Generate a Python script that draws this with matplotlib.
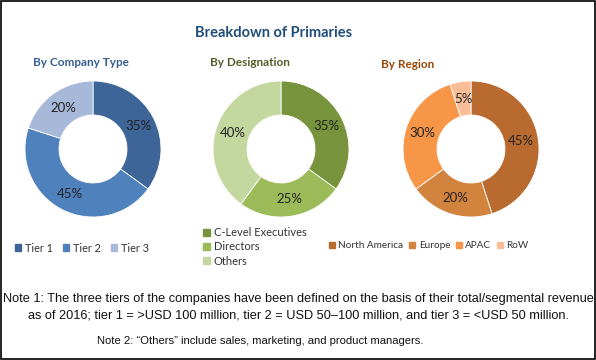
import matplotlib
matplotlib.use("Agg")
import matplotlib.pyplot as plt
from matplotlib.patches import Patch, Rectangle

# chart data
title = "Breakdown of Primaries"
company_labels = ["Tier 1", "Tier 2", "Tier 3"]
company_values = [35, 45, 20]
design_labels = ["C-Level Executives", "Directors", "Others"]
design_values = [35, 25, 40]
region_labels = ["North America", "Europe", "APAC", "RoW"]
region_values = [45, 20, 30, 5]

note1 = ("Note 1: The three tiers of the companies have been defined on the basis of their total/segmental revenue\n"
         "as of 2016; tier 1 = >USD 100 million, tier 2 = USD 50\u2013100 million, and tier 3 = <USD 50 million.")
note2 = "Note 2: \u201cOthers\u201d include sales, marketing, and product managers."

company_colors = ["#3E6597", "#4F81BD", "#A7B9D8"]
design_colors = ["#77933C", "#9BBB59", "#C4D79F"]
region_colors = ["#B86A2F", "#D2843E", "#F79646", "#F9BD97"]

W, H = 596, 360
fig = plt.figure(figsize=(W / 100, H / 100), dpi=100)
fig.patch.set_facecolor("white")


def fx(x):
    return x / W


def fy(y):
    return 1 - y / H


def donut(cx, cy, r, values, colors):
    ax = fig.add_axes([fx(cx - r), fy(cy + r), 2 * r / W, 2 * r / H])
    ax.pie(values, colors=colors, startangle=90, counterclock=False,
           radius=1, wedgeprops=dict(width=0.5, edgecolor="white", linewidth=0.6),
           autopct="%d%%", pctdistance=0.75,
           textprops=dict(family="Lato", fontsize=9.5, color="#222222"))
    ax.set_xlim(-1, 1)
    ax.set_ylim(-1, 1)
    ax.set_aspect("equal")
    ax.axis("off")
    return ax


donut(93, 149, 68, company_values, company_colors)
donut(281, 149, 68, design_values, design_colors)
donut(471, 149, 68, region_values, region_colors)

fig.text(fx(274), fy(33), title, ha="center", va="center", family="Lato",
         fontweight="bold", fontsize=10.5, color="#1F4E79")
fig.text(fx(81), fy(63), "By Company Type", ha="center", va="center", family="Lato",
         fontweight="bold", fontsize=8.5, color="#365F91")
fig.text(fx(250), fy(63), "By Designation", ha="center", va="center", family="Lato",
         fontweight="bold", fontsize=8.5, color="#4F6228")
fig.text(fx(408), fy(65), "By Region", ha="center", va="center", family="Lato",
         fontweight="bold", fontsize=8.5, color="#984807")

leg_kw = dict(frameon=False, handlelength=0.6, handleheight=0.6, handletextpad=0.35,
              labelcolor="#333333", borderaxespad=0, borderpad=0)

h1 = [Patch(color=c) for c in company_colors]
fig.legend(h1, company_labels, loc="center left", bbox_to_anchor=(fx(15), fy(248)),
           ncol=3, columnspacing=0.9, prop=dict(family="Lato", size=7.8), **leg_kw)
h2 = [Patch(color=c) for c in design_colors]
fig.legend(h2, design_labels, loc="center left", bbox_to_anchor=(fx(203), fy(247)),
           ncol=1, labelspacing=0.3, prop=dict(family="Lato", size=8), **leg_kw)
h3 = [Patch(color=c) for c in region_colors]
fig.legend(h3, region_labels, loc="center left", bbox_to_anchor=(fx(329), fy(246)),
           ncol=4, columnspacing=0.55, prop=dict(family="Lato", size=7.2), **leg_kw)

fig.text(fx(298), fy(307), note1, ha="center", va="center", family="Liberation Sans",
         fontsize=9.2, linespacing=1.5, color="#111111")
fig.text(fx(260), fy(341), note2, ha="center", va="center", family="Liberation Sans",
         fontsize=8.1, color="#111111")

fig.patches.append(Rectangle((0.001, 0.002), 0.997, 0.996, transform=fig.transFigure,
                             fill=False, edgecolor="black", linewidth=1.2))

fig.savefig("out.png", dpi=100)
